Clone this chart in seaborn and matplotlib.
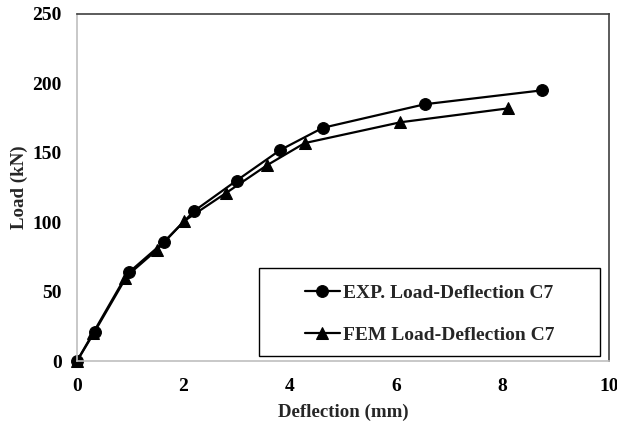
import matplotlib
matplotlib.use("Agg")
import matplotlib.pyplot as plt
import seaborn as sns
import pandas as pd
from matplotlib.patches import Rectangle

# readings
exp_deflection = [0.0, 0.33, 0.98, 1.64, 2.2, 3.0, 3.82, 4.62, 6.54, 8.74]
exp_load = [0, 21, 64, 86, 108, 130, 152, 168, 185, 195]
fem_deflection = [0.0, 0.3, 0.9, 1.5, 2.02, 2.8, 3.57, 4.28, 6.08, 8.1]
fem_load = [0, 20, 60, 80, 101, 121, 141, 157, 172, 182]

exp_label = "EXP. Load-Deflection C7"
fem_label = "FEM Load-Deflection C7"
x_ticks = [0, 2, 4, 6, 8, 10]
y_ticks = [0, 50, 100, 150, 200, 250]

sns.set_style("white")
plt.rcParams["font.family"] = ["Liberation Serif", "DejaVu Serif"]
plt.rcParams["font.weight"] = "bold"

df = pd.concat([
    pd.DataFrame({"Deflection": exp_deflection, "Load": exp_load, "series": exp_label}),
    pd.DataFrame({"Deflection": fem_deflection, "Load": fem_load, "series": fem_label}),
])

fig = plt.figure(figsize=(6.17, 4.28), dpi=100)
ax = fig.add_axes([0.1248, 0.1565, 0.8622, 0.8108])

sns.lineplot(data=df, x="Deflection", y="Load", style="series", markers=["o", "^"],
             dashes=False, color="black", sort=False, markersize=8.5, linewidth=1.6,
             markeredgecolor="black", ax=ax)
for line in ax.lines:
    line.set_clip_on(False)

ax.set_xlim(0, 10)
ax.set_ylim(0, 250)
ax.set_xticks(x_ticks)
ax.set_yticks(y_ticks)
ax.tick_params(axis="both", labelsize=14, length=4, width=1, color="#bfbfbf",
               direction="out", labelcolor="black")
ax.tick_params(axis="x", pad=8.5)
ax.tick_params(axis="y", pad=7)
for lbl in ax.get_xticklabels() + ax.get_yticklabels():
    lbl.set_fontweight("bold")
ax.set_xlabel("Deflection (mm)", fontsize=13.6, fontweight="bold", labelpad=6)
ax.set_ylabel("Load (kN)", fontsize=13.6, fontweight="bold", labelpad=3)

for side in ["left", "bottom"]:
    ax.spines[side].set_color("#bfbfbf")
    ax.spines[side].set_linewidth(1.2)
for side in ["top", "right"]:
    ax.spines[side].set_color("#404040")
    ax.spines[side].set_linewidth(1.2)

leg = ax.legend(loc="center", bbox_to_anchor=(0.6625, 0.136), frameon=False,
                labelspacing=1.25, handlelength=1.8, handletextpad=0.15,
                prop={"weight": "bold", "size": 14})
ax.add_patch(Rectangle((0.342, 0.014), 0.641, 0.254, transform=ax.transAxes,
                       fill=False, edgecolor="black", linewidth=1, clip_on=False))

fig.savefig("out.png", dpi=100)
